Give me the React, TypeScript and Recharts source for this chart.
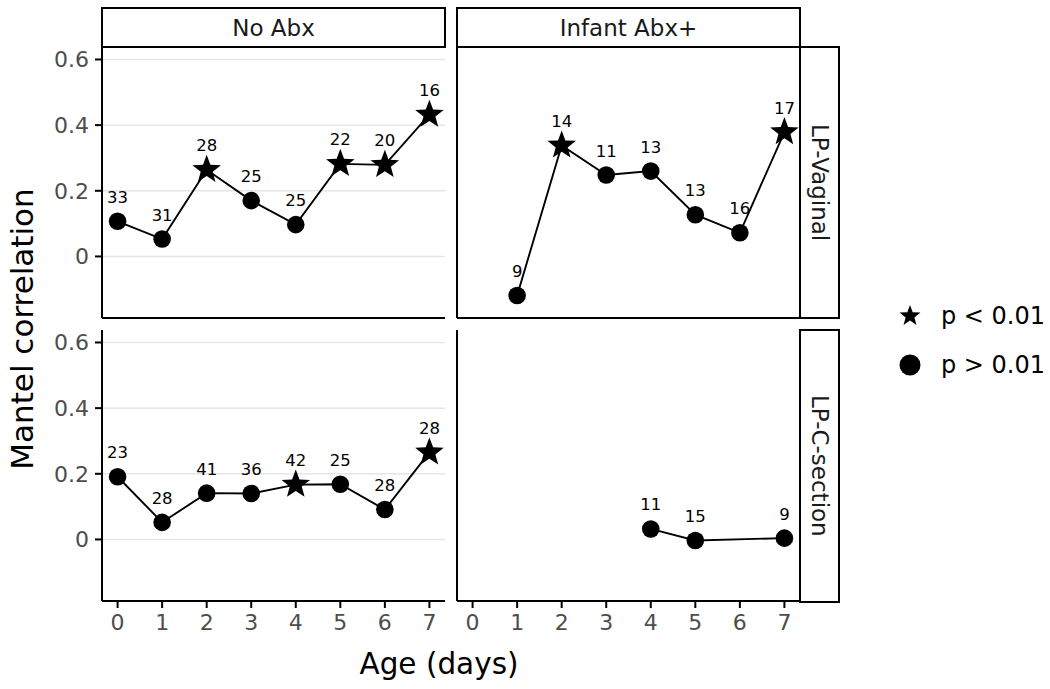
import React from "react"
import { LineChart, Line, XAxis, YAxis, CartesianGrid, LabelList } from "recharts"

// shared ticks
const AGE_TICKS = [0, 1, 2, 3, 4, 5, 6, 7]
const R_TICKS = [0, 0.2, 0.4, 0.6]

// LP-Vaginal / No Abx
const VAG_NOABX_DAYS = [0, 1, 2, 3, 4, 5, 6, 7]
const VAG_NOABX_R = [0.107, 0.053, 0.264, 0.17, 0.097, 0.282, 0.279, 0.432]
const VAG_NOABX_N = [33, 31, 28, 25, 25, 22, 20, 16]
const VAG_NOABX_SIG = [false, false, true, false, false, true, true, true]

// LP-Vaginal / Infant Abx+
const VAG_ABX_DAYS = [1, 2, 3, 4, 5, 6, 7]
const VAG_ABX_R = [-0.119, 0.338, 0.248, 0.26, 0.127, 0.072, 0.379]
const VAG_ABX_N = [9, 14, 11, 13, 13, 16, 17]
const VAG_ABX_SIG = [false, true, false, false, false, false, true]

// LP-C-section / No Abx
const CS_NOABX_DAYS = [0, 1, 2, 3, 4, 5, 6, 7]
const CS_NOABX_R = [0.191, 0.052, 0.141, 0.14, 0.167, 0.168, 0.091, 0.265]
const CS_NOABX_N = [23, 28, 41, 36, 42, 25, 28, 28]
const CS_NOABX_SIG = [false, false, false, false, true, false, false, true]

// LP-C-section / Infant Abx+
const CS_ABX_DAYS = [4, 5, 7]
const CS_ABX_R = [0.032, -0.003, 0.004]
const CS_ABX_N = [11, 15, 9]
const CS_ABX_SIG = [false, false, false]

const FONT = "'DejaVu Sans', sans-serif"
const PANEL_W = 343
const PANEL_H = 271
const PAD = 12
const Y_AXIS_W = 60
const X_AXIS_H = 45

function rows(days: number[], r: number[], n: number[], sig: boolean[]) {
  return days.map((d, i) => ({ day: d, r: r[i], n: n[i], sig: sig[i] }))
}

function starPath(cx: number, cy: number, outer: number, inner: number) {
  let d = ""
  for (let i = 0; i < 10; i++) {
    const rad = i % 2 === 0 ? outer : inner
    const a = -Math.PI / 2 + (i * Math.PI) / 5
    d += (i === 0 ? "M" : "L") + (cx + rad * Math.cos(a)).toFixed(2) + "," + (cy + rad * Math.sin(a)).toFixed(2)
  }
  return d + "Z"
}

function Marker({ cx, cy, sig }: { cx: number; cy: number; sig: boolean }) {
  if (cx == null || cy == null) return null
  return sig ? <path d={starPath(cx, cy, 15, 6.3)} fill="#000" /> : <circle cx={cx} cy={cy} r={8.8} fill="#000" />
}

function NLabel(props: any) {
  const { x, y, value } = props
  return (
    <text x={x} y={y - 24} textAnchor="middle" dominantBaseline="central" fontSize={16.5} fill="#000">
      {value}
    </text>
  )
}

interface PanelProps {
  left: number
  top: number
  data: { day: number; r: number; n: number; sig: boolean }[]
  showX: boolean
  showY: boolean
}

function Panel({ left, top, data, showX, showY }: PanelProps) {
  // hidden axes keep 1px so their axis line is still drawn
  const yW = showY ? Y_AXIS_W : 1
  const xH = showX ? X_AXIS_H : 1
  const width = PANEL_W + yW + 2 * PAD
  const height = PANEL_H + xH + 2 * PAD
  return (
    <div style={{ position: "absolute", left: left - PAD - yW, top: top - PAD }}>
      <LineChart
        width={width}
        height={height}
        data={data}
        margin={{ top: PAD, right: PAD, bottom: PAD, left: PAD }}
        style={{ overflow: "visible" }}
      >
        <CartesianGrid vertical={false} horizontalValues={R_TICKS} stroke="#e6e6e6" strokeWidth={1.5} />
        <XAxis
          type="number"
          dataKey="day"
          domain={[-0.35, 7.35]}
          ticks={AGE_TICKS}
          allowDataOverflow
          height={xH}
          tick={showX ? { fontSize: 22, fill: "#4d4d4d" } : false}
          tickLine={showX ? { stroke: "#000", strokeWidth: 2 } : false}
          tickSize={7}
          tickMargin={6}
          axisLine={{ stroke: "#000", strokeWidth: 2 }}
        />
        <YAxis
          type="number"
          domain={[-0.1875, 0.638]}
          ticks={R_TICKS}
          allowDataOverflow
          width={yW}
          tick={showY ? { fontSize: 22, fill: "#4d4d4d" } : false}
          tickLine={showY ? { stroke: "#000", strokeWidth: 2 } : false}
          tickSize={7}
          tickMargin={6}
          tickFormatter={(v: number) => (v === 0 ? "0" : v.toFixed(1))}
          axisLine={{ stroke: "#000", strokeWidth: 2 }}
        />
        <Line
          type="linear"
          dataKey="r"
          stroke="#000"
          strokeWidth={1.9}
          isAnimationActive={false}
          dot={(p: any) => <Marker key={`m-${p.index}`} cx={p.cx} cy={p.cy} sig={p.payload.sig} />}
          activeDot={false}
        >
          <LabelList dataKey="n" content={NLabel} />
        </Line>
      </LineChart>
    </div>
  )
}

const stripBox: React.CSSProperties = {
  position: "absolute",
  boxSizing: "border-box",
  border: "2px solid #000",
  background: "#fff",
  display: "flex",
  alignItems: "center",
  justifyContent: "center",
  fontSize: 23,
  color: "#1a1a1a",
}

export default function App() {
  const TL = { left: 102, top: 47 }
  const TR = { left: 457, top: 47 }
  const BL = { left: 102, top: 330 }
  const BR = { left: 457, top: 330 }

  return (
    <div style={{ position: "absolute", left: 0, top: 0, width: 1050, height: 689, background: "#fff", fontFamily: FONT }}>
      <Panel {...TL} data={rows(VAG_NOABX_DAYS, VAG_NOABX_R, VAG_NOABX_N, VAG_NOABX_SIG)} showX={false} showY={true} />
      <Panel {...TR} data={rows(VAG_ABX_DAYS, VAG_ABX_R, VAG_ABX_N, VAG_ABX_SIG)} showX={false} showY={false} />
      <Panel {...BL} data={rows(CS_NOABX_DAYS, CS_NOABX_R, CS_NOABX_N, CS_NOABX_SIG)} showX={true} showY={true} />
      <Panel {...BR} data={rows(CS_ABX_DAYS, CS_ABX_R, CS_ABX_N, CS_ABX_SIG)} showX={true} showY={false} />

      {/* column strips */}
      <div style={{ ...stripBox, left: 101, top: 7, width: 345, height: 41 }}>No Abx</div>
      <div style={{ ...stripBox, left: 456, top: 7, width: 345, height: 41 }}>Infant Abx+</div>

      {/* row strips */}
      <div style={{ ...stripBox, left: 799, top: 46, width: 41, height: 273 }}>
        <span style={{ writingMode: "vertical-rl" }}>LP-Vaginal</span>
      </div>
      <div style={{ ...stripBox, left: 799, top: 329, width: 41, height: 274 }}>
        <span style={{ writingMode: "vertical-rl" }}>LP-C-section</span>
      </div>

      {/* axis titles */}
      <div style={{ position: "absolute", left: 439, top: 664, transform: "translate(-50%, -50%)", fontSize: 29.5, color: "#000", whiteSpace: "nowrap" }}>
        Age (days)
      </div>
      <div
        style={{
          position: "absolute",
          left: 22,
          top: 329,
          transform: "translate(-50%, -50%) rotate(-90deg)",
          fontSize: 31,
          color: "#000",
          whiteSpace: "nowrap",
        }}
      >
        Mantel correlation
      </div>

      {/* legend */}
      <svg style={{ position: "absolute", left: 890, top: 296 }} width={40} height={90}>
        <path d={starPath(20, 20, 11, 4.6)} fill="#000" />
        <circle cx={20} cy={69} r={10.5} fill="#000" />
      </svg>
      <div style={{ position: "absolute", left: 941, top: 316, transform: "translateY(-50%)", fontSize: 24, color: "#000", whiteSpace: "nowrap" }}>
        p &lt; 0.01
      </div>
      <div style={{ position: "absolute", left: 941, top: 365, transform: "translateY(-50%)", fontSize: 24, color: "#000", whiteSpace: "nowrap" }}>
        p &gt; 0.01
      </div>
    </div>
  )
}
